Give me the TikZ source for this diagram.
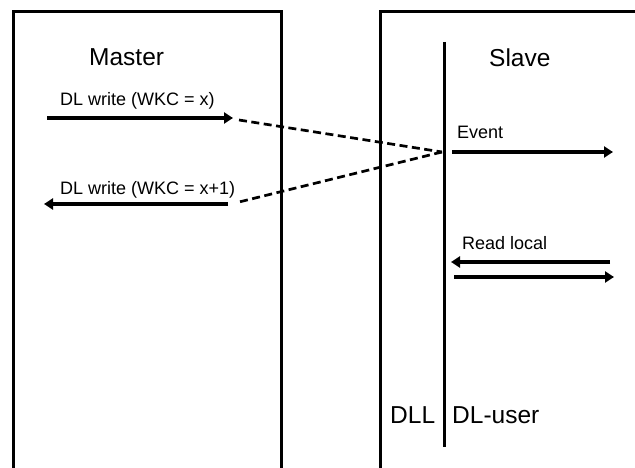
\documentclass[tikz,border=0pt]{standalone}
\usepackage{fontspec}
\setmainfont{Liberation Sans}
\usetikzlibrary{arrows.meta}
\begin{document}
\begin{tikzpicture}[x=1pt,y=-1pt,
  frame/.style={line width=3pt},
  layer/.style={line width=2.8pt},
  msg/.style={line width=4.2pt,-{Triangle[length=9pt,width=11pt]}},
  link/.style={line width=2.7pt,dash pattern=on 8pt off 4.5pt},
  big/.style={anchor=base west,inner sep=0pt,font=\fontsize{24.5}{29}\selectfont},
  small/.style={anchor=base west,inner sep=0pt,font=\fontsize{18}{22}\selectfont}]
\useasboundingbox (0,0) rectangle (635,468);

% open-bottomed frames for the two stations
\draw[frame] (13.5,470) -- (13.5,12) -- (281.5,12) -- (281.5,470);
\draw[frame] (380.5,470) -- (380.5,12) -- (640,12);

% boundary between data link layer and its user
\coordinate (ltop) at (444.5,42);
\coordinate (lbot) at (444.5,447);
\draw[layer] (ltop) -- (lbot);

% titles
\node[big] (master) at (89,66) {Master};
\node[big] (slave) at (489,67) {Slave};
\node[big] (dll) at (390,423) {DLL};
\node[big] (dluser) at (452,423) {DL-user};

% master side frames
\node[small] (w1) at (60,106) {DL write (WKC = x)};
\node[small] (w2) at (60,194) {DL write (WKC = x+1)};
\coordinate (a1s) at (47,118);
\coordinate (a1e) at (233,118);
\coordinate (a2s) at (228,204);
\coordinate (a2e) at (44,204);
\draw[msg] (a1s) -- (a1e);
\draw[msg] (a2s) -- (a2e);

% frame passing through the slave
\coordinate (hub) at (442,152);
\coordinate (d1) at (239,120);
\coordinate (d2) at (237,202.5);
\draw[link] (d1) -- (hub);
\draw[link] (hub) -- (d2);

% slave local services
\node[small] (ev) at (457,139) {Event};
\coordinate (evs) at (452,152);
\coordinate (eve) at (613,152);
\draw[msg] (evs) -- (eve);

\node[small] (rl) at (462,249) {Read local};
\coordinate (r1s) at (610,262);
\coordinate (r1e) at (451,262);
\coordinate (r2s) at (454,277);
\coordinate (r2e) at (614,277);
\draw[msg] (r1s) -- (r1e);
\draw[msg] (r2s) -- (r2e);
\end{tikzpicture}
\end{document}
